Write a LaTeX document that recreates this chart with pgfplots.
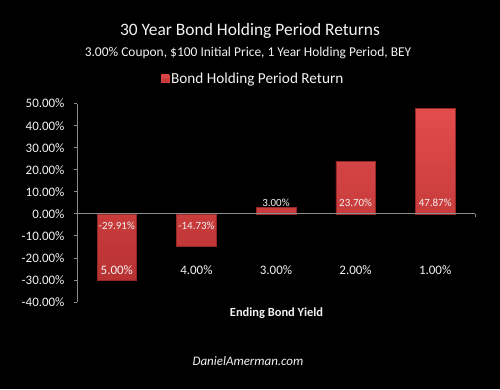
\documentclass[border=0pt]{standalone}
\usepackage{fontspec}
\setmainfont{Carlito}
\usepackage{pgfplots}
\pgfplotsset{compat=1.18}
\definecolor{barred}{HTML}{D64242}
\definecolor{bartop}{HTML}{E24C4C}
\definecolor{barbot}{HTML}{B93232}
\definecolor{axgray}{HTML}{8C8C8C}
\definecolor{txt}{HTML}{F2F2F2}
\begin{document}
\begin{tikzpicture}[x=1bp,y=1bp]
\fill[black] (0,0) rectangle (500,389);
\useasboundingbox (0,0) rectangle (500,389);
\node[text=txt,font=\fontsize{17.5}{20}\selectfont] at (250,358) {30 Year Bond Holding Period Returns};
\node[text=txt,font=\fontsize{13.5}{16}\selectfont] at (248,336) {3.00\% Coupon, \$100 Initial Price, 1 Year Holding Period, BEY};
\node[text=txt,font=\bfseries\fontsize{12.5}{15}\selectfont] at (276.5,76) {Ending Bond Yield};
\node[text=txt,font=\itshape\fontsize{13}{15}\selectfont] at (248,28) {DanielAmerman.com};
\begin{axis}[
  at={(77bp,87bp)}, anchor=south west,
  scale only axis, width=398bp, height=198.4bp,
  xmin=-0.5, xmax=4.5, ymin=-40, ymax=50,
  ytick={-40,-30,...,50},
  yticklabel={\pgfmathprintnumber[fixed,fixed zerofill,precision=2]{\tick}\%},
  /pgf/number format/assume math mode=true,
  axis on top,
  axis y line=left,
  axis x line=middle,
  axis line style={axgray,-,line width=0.8pt},
  y tick style={axgray,line width=0.8pt},
  tick align=outside,
  major tick length=3bp,
  xtick=data,
  xticklabels={5.00\%,4.00\%,3.00\%,2.00\%,1.00\%},
  x tick style={draw=none},
  extra x ticks={4.5},
  extra x tick labels={},
  extra x tick style={x tick style={draw=axgray,line width=0.8pt}},
  xticklabel style={yshift=-45bp},
  ticklabel style={text=txt,font=\fontsize{13}{15}\selectfont},
  yticklabel style={xshift=-6bp},
  ybar, bar width=39.5bp,
  legend style={at={(0.443,1.125)},anchor=center,draw=none,fill=none,text=txt,font=\fontsize{15.3}{18}\selectfont},
  legend image code/.code={\fill[barred] (0bp,-3.5bp) rectangle (7.5bp,4bp);},
  clip=false,
]
\addplot[draw=barbot!80!black, top color=bartop, bottom color=barbot, line width=0.4pt]
  coordinates {(0,-29.91) (1,-14.73) (2,3.00) (3,23.70) (4,47.87)};
\addlegendentry{Bond Holding Period Return}
\begin{scope}[every node/.style={text=txt,font=\fontsize{11}{13}\selectfont}]
\node at (axis cs:0,-5.4) {-29.91\%};
\node at (axis cs:1,-5.4) {-14.73\%};
\node at (axis cs:2,5.0) {3.00\%};
\node at (axis cs:3,5.0) {23.70\%};
\node at (axis cs:4,5.0) {47.87\%};
\end{scope}
\end{axis}
\end{tikzpicture}
\end{document}
